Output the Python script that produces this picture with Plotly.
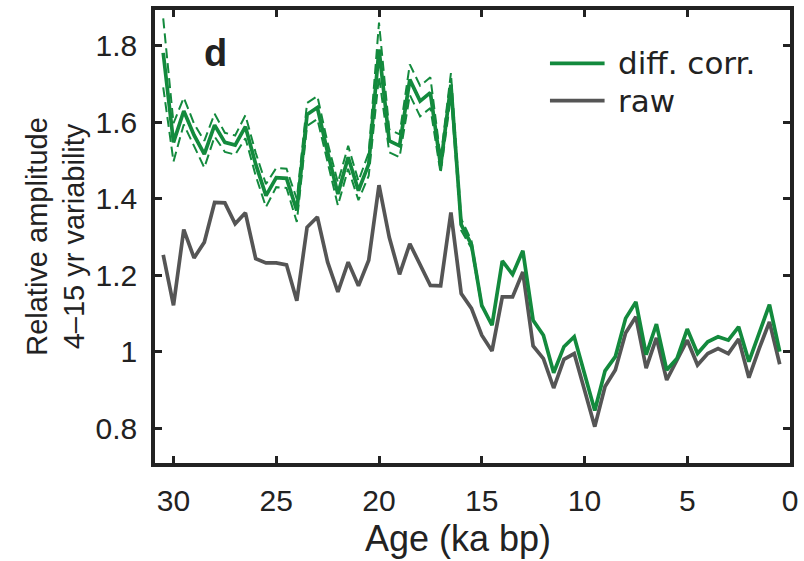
import plotly.graph_objects as go

age = [30.5, 30, 29.5, 29, 28.5, 28, 27.5, 27, 26.5, 26, 25.5, 25, 24.5, 24, 23.5, 23,
       22.5, 22, 21.5, 21, 20.5, 20, 19.5, 19, 18.5, 18, 17.5, 17, 16.5, 16, 15.5, 15,
       14.5, 14, 13.5, 13, 12.5, 12, 11.5, 11, 10.5, 10, 9.5, 9, 8.5, 8, 7.5, 7, 6.5, 6,
       5.5, 5, 4.5, 4, 3.5, 3, 2.5, 2, 1.5, 1, 0.5]

diff_corr = [1.781, 1.547, 1.629, 1.566, 1.516, 1.592, 1.547, 1.540, 1.588, 1.490, 1.408,
             1.455, 1.453, 1.369, 1.620, 1.638, 1.521, 1.412, 1.508, 1.421, 1.490, 1.790,
             1.551, 1.538, 1.711, 1.655, 1.677, 1.486, 1.698, 1.332, 1.280, 1.121, 1.069,
             1.237, 1.202, 1.264, 1.082, 1.043, 0.945, 1.013, 1.039, 0.942, 0.846, 0.950,
             0.987, 1.087, 1.130, 0.992, 1.072, 0.952, 0.982, 1.059, 0.995, 1.026, 1.039,
             1.030, 1.065, 0.974, 1.047, 1.123, 1.000]

raw = [1.253, 1.121, 1.319, 1.245, 1.286, 1.390, 1.389, 1.334, 1.363, 1.243, 1.232, 1.232,
       1.227, 1.133, 1.325, 1.352, 1.234, 1.156, 1.234, 1.172, 1.239, 1.435, 1.299, 1.202,
       1.282, 1.226, 1.173, 1.172, 1.364, 1.152, 1.113, 1.043, 1.002, 1.143, 1.143, 1.208,
       1.015, 0.982, 0.905, 0.980, 0.995, 0.900, 0.804, 0.909, 0.952, 1.049, 1.091, 0.957,
       1.036, 0.926, 0.976, 1.030, 0.965, 0.995, 1.008, 0.995, 1.033, 0.932, 1.008, 1.078,
       0.967]

# uncertainty of the corrected curve (dashed envelope), for the oldest part
corr_err = [0.09, 0.05, 0.035, 0.03, 0.035, 0.03, 0.025, 0.025, 0.03, 0.03, 0.03, 0.025,
            0.025, 0.03, 0.03, 0.03, 0.025, 0.03, 0.03, 0.025, 0.03, 0.07, 0.03, 0.03,
            0.04, 0.04, 0.04, 0.02, 0.03, 0.015, 0.01, 0.005]

x_ticks = [30, 25, 20, 15, 10, 5, 0]
y_ticks = [0.8, 1.0, 1.2, 1.4, 1.6, 1.8]
y_tick_labels = ["0.8", "1", "1.2", "1.4", "1.6", "1.8"]

series_names = ["diff. corr.", "raw"]

GREEN = "#138a3d"
GRAY = "#555555"
FONT = "Liberation Sans"
LEG_FONT = "DejaVu Sans"
TXT = "#222222"

n_err = len(corr_err)
err_age = age[:n_err]
upper = [v + e for v, e in zip(diff_corr[:n_err], corr_err)]
lower = [v - e for v, e in zip(diff_corr[:n_err], corr_err)]

fig = go.Figure()
for band in (upper, lower):
    fig.add_trace(go.Scatter(x=err_age, y=band, mode="lines", showlegend=False,
                             line=dict(color=GREEN, width=2, dash="10px,5px")))
fig.add_trace(go.Scatter(x=age, y=raw, mode="lines", name=series_names[1],
                         showlegend=False, line=dict(color=GRAY, width=3.7)))
fig.add_trace(go.Scatter(x=age, y=diff_corr, mode="lines", name=series_names[0],
                         showlegend=False, line=dict(color=GREEN, width=3.7)))

axis_common = dict(showline=True, linecolor=TXT, linewidth=3.5, mirror="allticks",
                   ticks="inside", ticklen=7, tickwidth=2.5, tickcolor=TXT,
                   showgrid=False, zeroline=False,
                   tickfont=dict(family=FONT, size=30, color=TXT))

# legend drawn in paper coordinates (key lines + labels)
legend_rows = [(series_names[0], GREEN, 0.882), (series_names[1], GRAY, 0.800)]
shapes = []
annotations = []
for name, col, yy in legend_rows:
    shapes.append(dict(type="line", xref="paper", yref="paper", x0=0.622, x1=0.708,
                       y0=yy, y1=yy, line=dict(color=col, width=3.7)))
    annotations.append(dict(text=name, xref="paper", yref="paper", x=0.726, y=yy,
                            xanchor="left", yanchor="middle", showarrow=False,
                            font=dict(size=31, family=LEG_FONT, color=TXT)))

annotations.append(dict(text="<b>d</b>", x=0.095, y=0.905, xref="paper", yref="paper",
                        xanchor="center", yanchor="middle", showarrow=False,
                        font=dict(size=38, family=FONT, color=TXT)))
annotations.append(dict(text="Age (ka bp)", x=0.477, y=-0.167, xref="paper", yref="paper",
                        xanchor="center", yanchor="middle", showarrow=False,
                        font=dict(size=36, family=FONT, color=TXT)))

fig.update_layout(
    width=804, height=561,
    margin=dict(l=155, r=9, t=6, b=98),
    paper_bgcolor="white", plot_bgcolor="white",
    font=dict(family=FONT, size=30, color=TXT),
    xaxis=dict(range=[30.9, 0], tickvals=x_ticks, ticklabelstandoff=8, **axis_common),
    yaxis=dict(range=[0.709, 1.893], tickvals=y_ticks, ticktext=y_tick_labels,
               ticklabelstandoff=8,
               title=dict(text="Relative amplitude<br>4–15 yr variability",
                          font=dict(size=29), standoff=3),
               **axis_common),
    shapes=shapes,
    annotations=annotations,
)

fig.write_html("out.html")
